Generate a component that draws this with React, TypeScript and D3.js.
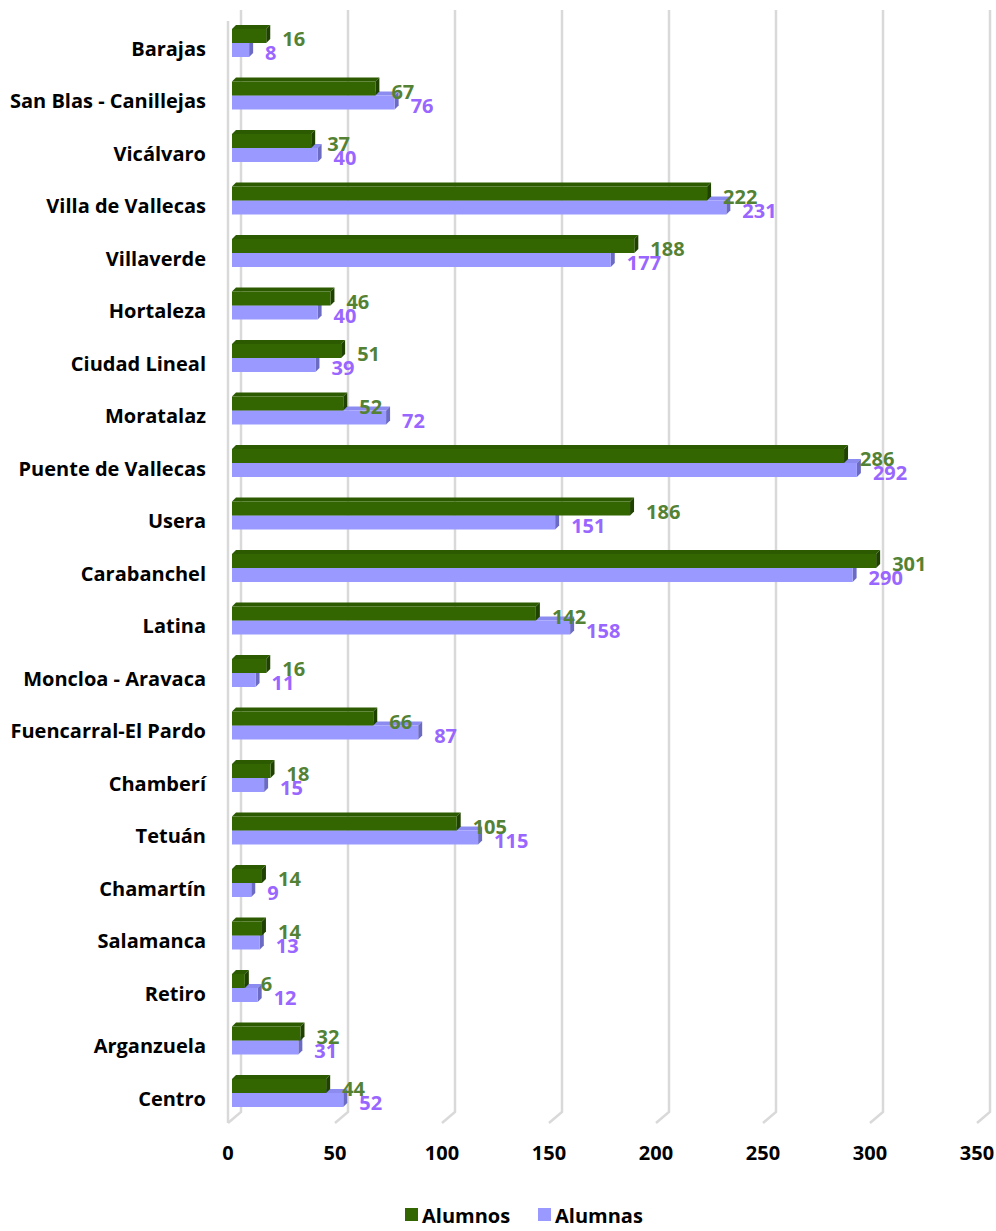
import React from "react";
import * as d3 from "d3";

const categories = [
  "Barajas", "San Blas - Canillejas", "Vicálvaro", "Villa de Vallecas", "Villaverde",
  "Hortaleza", "Ciudad Lineal", "Moratalaz", "Puente de Vallecas", "Usera",
  "Carabanchel", "Latina", "Moncloa - Aravaca", "Fuencarral-El Pardo", "Chamberí",
  "Tetuán", "Chamartín", "Salamanca", "Retiro", "Arganzuela", "Centro",
];
const alumnos = [16, 67, 37, 222, 188, 46, 51, 52, 286, 186, 301, 142, 16, 66, 18, 105, 14, 14, 6, 32, 44];
const alumnas = [8, 76, 40, 231, 177, 40, 39, 72, 292, 151, 290, 158, 11, 87, 15, 115, 9, 13, 12, 31, 52];
const ticks = [0, 50, 100, 150, 200, 250, 300, 350];
const seriesNames = ["Alumnos", "Alumnas"];

const FONT = "'Open Sans', sans-serif";
const W = 996, H = 1231;

export default function App() {
  const x = d3.scaleLinear().domain([0, 350]).range([0, 749]);
  const y = d3.scalePoint<string>().domain(categories).range([43, 1093]);
  const barX0 = 232, backX0 = 241, frontX0 = 228;
  const backTop = 10, backBottom = 1112, floorFront = 1123;
  const bh = 14, dx = 4, dy = 4;

  const bar = (v: number, yTop: number, front: string, top: string, side: string, key: string) => {
    const x0 = barX0, x1 = barX0 + x(v), y1 = yTop + bh;
    return (
      <g key={key}>
        <path d={`M${x0},${yTop}L${x1},${yTop}L${x1 + dx},${yTop - dy}L${x0 + dx},${yTop - dy}Z`} fill={top} />
        <path d={`M${x1},${yTop}L${x1 + dx},${yTop - dy}L${x1 + dx},${y1 - dy}L${x1},${y1}Z`} fill={side} />
        <rect x={x0} y={yTop} width={x1 - x0} height={bh} fill={front} />
      </g>
    );
  };

  return (
    <svg width={W} height={H} style={{ position: "absolute", left: 0, top: 0, background: "#fff" }} fontFamily={FONT}>
      {/* gridlines */}
      {ticks.map((t) => (
        <path key={"g" + t}
          d={`M${backX0 + x(t)},${backTop}L${backX0 + x(t)},${backBottom}L${frontX0 + x(t)},${floorFront}`}
          fill="none" stroke="#d9d9d9" strokeWidth={2.5} />
      ))}
      <line x1={frontX0} x2={frontX0} y1={21} y2={floorFront} stroke="#d9d9d9" strokeWidth={2.5} />
      {/* bars */}
      {categories.map((c, i) => {
        const cy = y(c)!;
        return (
          <g key={c}>
            {bar(alumnas[i], cy, "#9999ff", "#8c8cf0", "#6b6bc4", "f")}
            {bar(alumnos[i], cy - bh, "#336600", "#2c5a00", "#1f4200", "m")}
          </g>
        );
      })}
      {/* data labels */}
      {categories.map((c, i) => {
        const cy = y(c)!;
        return (
          <g key={"l" + c} fontWeight={700} fontSize={20}>
            <text x={barX0 + x(alumnos[i]) + 16} y={cy - 4.5} dominantBaseline="central" fill="#548235">{alumnos[i]}</text>
            <text x={barX0 + x(alumnas[i]) + 16} y={cy + 9.5} dominantBaseline="central" fill="#9966ff">{alumnas[i]}</text>
          </g>
        );
      })}
      {/* category labels */}
      {categories.map((c) => (
        <text key={"c" + c} x={206} y={y(c)! + 5} textAnchor="end" dominantBaseline="central"
          fontWeight={700} fontSize={20} fill="#000">{c}</text>
      ))}
      {/* x tick labels */}
      {ticks.map((t) => (
        <text key={"t" + t} x={frontX0 + x(t)} y={1152} textAnchor="middle" dominantBaseline="central"
          fontWeight={700} fontSize={20} fill="#000">{t}</text>
      ))}
      {/* legend */}
      <g fontWeight={700} fontSize={20}>
        <rect x={405} y={1208} width={13} height={13} fill="#336600" />
        <text x={422} y={1215} dominantBaseline="central" fill="#000">{seriesNames[0]}</text>
        <rect x={538} y={1208} width={13} height={13} fill="#9999ff" />
        <text x={555} y={1215} dominantBaseline="central" fill="#000">{seriesNames[1]}</text>
      </g>
    </svg>
  );
}
